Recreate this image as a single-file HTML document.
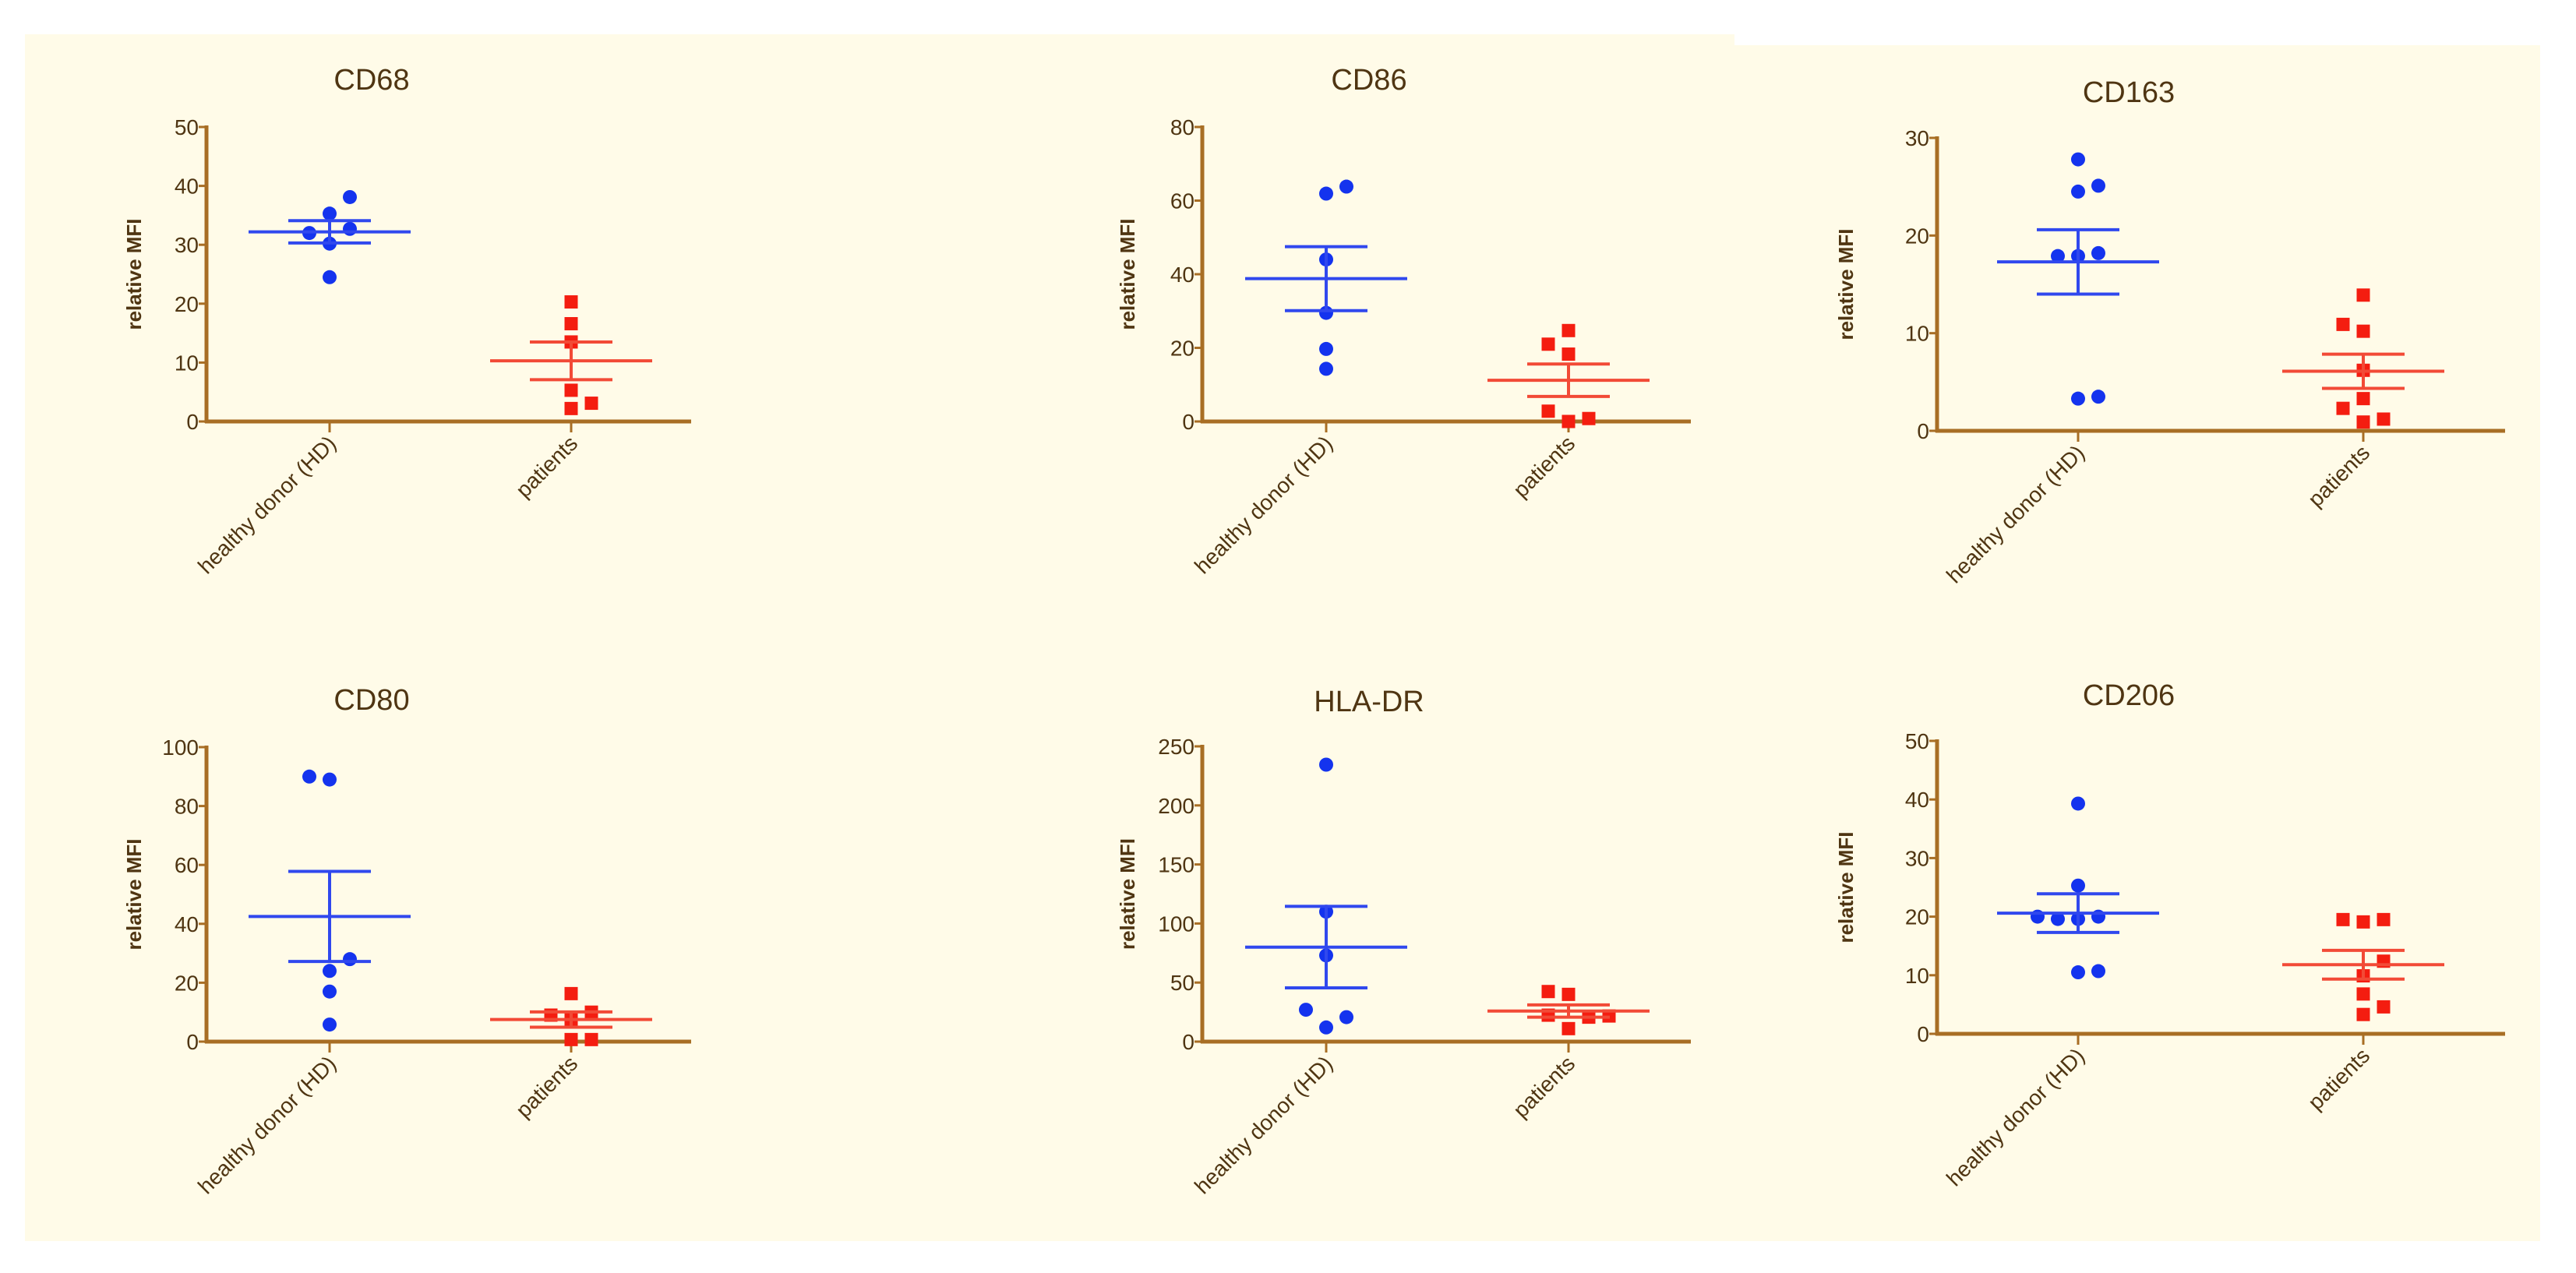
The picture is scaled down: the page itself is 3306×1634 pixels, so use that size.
<!DOCTYPE html>
<html><head><meta charset="utf-8"><style>
html,body{margin:0;padding:0;background:#fff;}
svg{display:block;font-family:"Liberation Sans",Arial,sans-serif;}
</style></head><body>
<svg id="fig" width="3306" height="1634" viewBox="0 0 3306 1634" xmlns="http://www.w3.org/2000/svg">
<rect x="32" y="44" width="2194" height="1549" fill="#fffbe8"/>
<rect x="2211" y="58" width="1049" height="1535" fill="#fffbe8"/>
</svg>
<script>
// ---- data ----
const categories = ["healthy donor (HD)", "patients"];
const titles = ["CD68", "CD86", "CD163", "CD80", "HLA-DR", "CD206"];
const yMaxes = [50, 80, 30, 100, 250, 50];
const yTickSteps = [10, 20, 10, 20, 50, 10];

const cd68_hd = [38.1, 35.3, 32.7, 32.0, 30.2, 24.5];
const cd68_hd_jit = [1, 0, 1, -1, 0, 0];
const cd68_pt = [20.3, 16.6, 13.5, 5.3, 3.1, 2.2];
const cd68_pt_jit = [0, 0, 0, 0, 1, 0];
const cd68_mean = [32.2, 10.3];
const cd68_sem = [1.9, 3.2];

const cd86_hd = [63.8, 61.9, 44.0, 29.5, 19.7, 14.3];
const cd86_hd_jit = [1, 0, 0, 0, 0, 0];
const cd86_pt = [24.7, 21.0, 18.3, 2.8, 0.0, 0.8];
const cd86_pt_jit = [0, -1, 0, -1, 0, 1];
const cd86_mean = [38.8, 11.2];
const cd86_sem = [8.7, 4.4];

const cd163_hd = [27.8, 24.5, 25.1, 17.9, 17.9, 18.2, 3.3, 3.5];
const cd163_hd_jit = [0, 0, 1, -1, 0, 1, 0, 1];
const cd163_pt = [13.9, 10.9, 10.2, 6.2, 3.3, 2.3, 1.2, 0.9];
const cd163_pt_jit = [0, -1, 0, 0, 0, -1, 1, 0];
const cd163_mean = [17.3, 6.1];
const cd163_sem = [3.3, 1.75];

const cd80_hd = [90, 89, 28, 24, 17, 5.8];
const cd80_hd_jit = [-1, 0, 1, 0, 0, 0];
const cd80_pt = [16.3, 9.0, 10.0, 7.5, 0.7, 0.7];
const cd80_pt_jit = [0, -1, 1, 0, 0, 1];
const cd80_mean = [42.5, 7.5];
const cd80_sem = [15.3, 2.6];

const hla_hd = [234.5, 110, 73, 27, 20.7, 12];
const hla_hd_jit = [0, 0, 0, -1, 1, 0];
const hla_pt = [42.4, 40.0, 22.4, 20.7, 21.7, 11.0];
const hla_pt_jit = [-1, 0, -1, 1, 2, 0];
const hla_mean = [80, 25.9];
const hla_sem = [34.5, 5.2];

const cd206_hd = [39.3, 25.3, 20.0, 19.6, 19.6, 20.0, 10.5, 10.7];
const cd206_hd_jit = [0, 0, -2, -1, 0, 1, 0, 1];
const cd206_pt = [19.5, 19.1, 19.5, 12.4, 9.9, 6.8, 4.6, 3.3];
const cd206_pt_jit = [-1, 0, 1, 1, 0, 0, 1, 0];
const cd206_mean = [20.6, 11.8];
const cd206_sem = [3.3, 2.45];

const hdSeries = [cd68_hd, cd86_hd, cd163_hd, cd80_hd, hla_hd, cd206_hd];
const hdJit = [cd68_hd_jit, cd86_hd_jit, cd163_hd_jit, cd80_hd_jit, hla_hd_jit, cd206_hd_jit];
const ptSeries = [cd68_pt, cd86_pt, cd163_pt, cd80_pt, hla_pt, cd206_pt];
const ptJit = [cd68_pt_jit, cd86_pt_jit, cd163_pt_jit, cd80_pt_jit, hla_pt_jit, cd206_pt_jit];
const means = [cd68_mean, cd86_mean, cd163_mean, cd80_mean, hla_mean, cd206_mean];
const sems = [cd68_sem, cd86_sem, cd163_sem, cd80_sem, hla_sem, cd206_sem];

// ---- layout (pixel geometry of each panel) ----
const layout = [
  {ax:265, top:163, bot:541, xend:887, c0:423, c1:733, ty:102, tx:477, lab:93},
  {ax:1543, top:163, bot:541, xend:2170, c0:1702, c1:2013, ty:102, tx:1757, lab:96},
  {ax:2486, top:177, bot:553, xend:3215, c0:2667, c1:3033, ty:118, tx:2732, lab:117},
  {ax:265, top:959, bot:1337, xend:887, c0:423, c1:733, ty:898, tx:477, lab:93},
  {ax:1543, top:958, bot:1337, xend:2170, c0:1702, c1:2013, ty:900, tx:1757, lab:96},
  {ax:2486, top:951, bot:1327, xend:3215, c0:2667, c1:3033, ty:892, tx:2732, lab:117}
];
const JIT = 26;
const AXC = "#a86e24", TXT = "#4f3512";
const BLUE = "#1433ee", BLUEL = "#3048ee", RED = "#f41d10", REDL = "#f24a36";

const svg = document.getElementById('fig');
const NS = "http://www.w3.org/2000/svg";
function mk(tag, attrs, parent) {
  const e = document.createElementNS(NS, tag);
  for (const k in attrs) e.setAttribute(k, attrs[k]);
  (parent || svg).appendChild(e);
  return e;
}

titles.forEach((t, i) => {
  const L = layout[i];
  const g = mk('g', {});
  
  
  const yScale = v => L.bot - (v / yMaxes[i]) * (L.bot - L.top);

  const title = mk('text', {x: L.tx, y: L.ty + 13, 'font-size': 38, fill: TXT, 'text-anchor': 'middle'}, g);
  title.textContent = t;
  
  

  const ya = mk('line', {x1: L.ax, y1: L.top - 2, x2: L.ax, y2: L.bot + 2, stroke: AXC, 'stroke-width': 5}, g);
  
  
  const xa = mk('line', {x1: L.ax - 2, y1: L.bot, x2: L.xend, y2: L.bot, stroke: AXC, 'stroke-width': 5}, g);
  
  

  for (let v = 0; v <= yMaxes[i] + 1e-9; v += yTickSteps[i]) {
    const y = yScale(v);
    const tk = mk('line', {x1: L.ax - 10, y1: y, x2: L.ax, y2: y, stroke: AXC, 'stroke-width': 3}, g);
    
    
    const tl = mk('text', {x: L.ax - 10, y: y + 10, 'font-size': 28, fill: TXT, 'text-anchor': 'end'}, g);
    tl.textContent = String(v);
    
    
  }
  const midY = (L.top + L.bot) / 2;
  const yl = mk('text', {x: 0, y: 0, 'font-size': 26, 'font-weight': 'bold', fill: TXT, 'text-anchor': 'middle',
    transform: `translate(${L.ax - L.lab + 9},${midY}) rotate(-90)`}, g);
  yl.textContent = 'relative MFI';
  
  

  const cx = [L.c0, L.c1];
  cx.forEach((x, c) => {
    const tk = mk('line', {x1: x, y1: L.bot, x2: x, y2: L.bot + 14, stroke: AXC, 'stroke-width': 3}, g);
    
    
    const tl = mk('text', {x: 0, y: 0, 'font-size': 28, fill: TXT, 'text-anchor': 'end',
      transform: `translate(${x + 10},${L.bot + 30}) rotate(-45)`}, g);
    tl.textContent = categories[c];
    
    
  });

  hdSeries[i].forEach((v, k) => {
    const p = mk('circle', {cx: L.c0 + hdJit[i][k] * JIT, cy: yScale(v), r: 9, fill: BLUE}, g);
    
    
  });
  ptSeries[i].forEach((v, k) => {
    const p = mk('rect', {x: L.c1 + ptJit[i][k] * JIT - 8.5, y: yScale(v) - 8.5, width: 17, height: 17, fill: RED}, g);
    
    
  });

  [0, 1].forEach(c => {
    const col = c === 0 ? BLUEL : REDL;
    const x = cx[c], m = yScale(means[i][c]), hi = yScale(means[i][c] + sems[i][c]), lo = yScale(means[i][c] - sems[i][c]);
    const ml = mk('line', {x1: x - 104, y1: m, x2: x + 104, y2: m, stroke: col, 'stroke-width': 4}, g);
    
    
    const vl = mk('line', {x1: x, y1: hi, x2: x, y2: lo, stroke: col, 'stroke-width': 4}, g);
    
    
    [hi, lo].forEach(yy => {
      const cap = mk('line', {x1: x - 53, y1: yy, x2: x + 53, y2: yy, stroke: col, 'stroke-width': 4}, g);
      
      
    });
  });
});
</script>
</body></html>
